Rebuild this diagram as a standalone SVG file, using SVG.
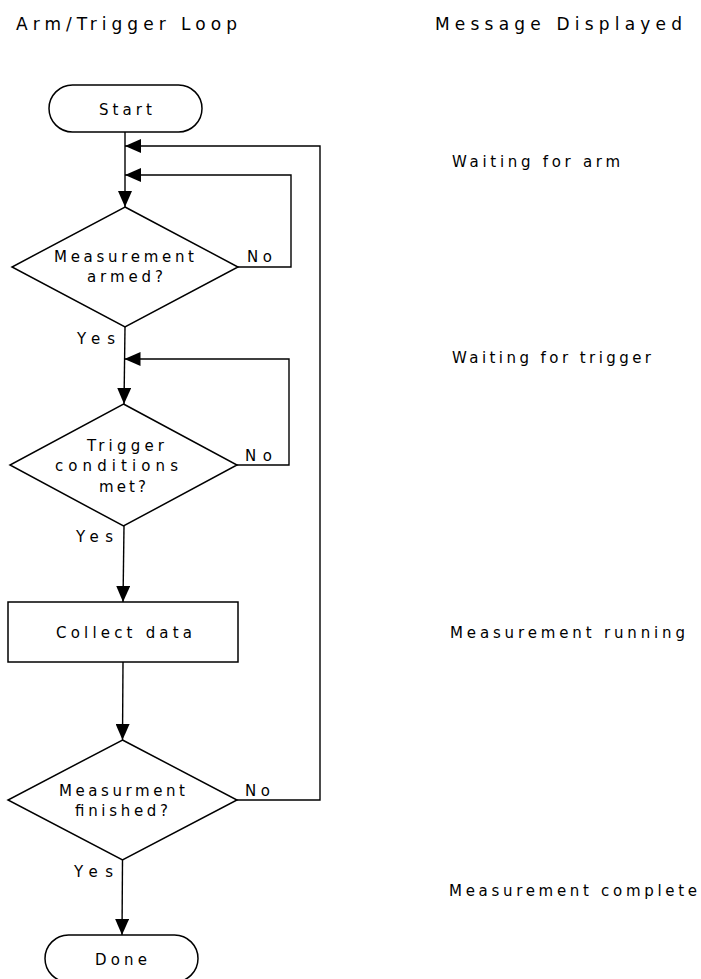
<svg xmlns="http://www.w3.org/2000/svg" width="701" height="979" viewBox="0 0 701 979">
<style>
.t{font-family:"DejaVu Sans","Liberation Sans",sans-serif;font-size:15px;fill:#000;}
.h{font-size:17px;}
.s{fill:none;stroke:#000;stroke-width:1.5;}
.c{fill:none;stroke:#000;stroke-width:1.4;marker-end:url(#ah);}
</style>
<defs>
<marker id="ah" viewBox="0 0 16 14" refX="16" refY="7" markerWidth="16" markerHeight="14" markerUnits="userSpaceOnUse" orient="auto">
<path d="M0,0 L16,7 L0,14 z" fill="#000"/>
</marker>
</defs>
<rect width="701" height="979" fill="#fff"/>
<g id="headers">
<text class="t h" x="16" y="30" textLength="221" lengthAdjust="spacing">Arm/Trigger Loop</text>
<text class="t h" x="435" y="30" textLength="247" lengthAdjust="spacing">Message Displayed</text>
</g>
<g id="messages">
<text class="t" x="452" y="167" textLength="168" lengthAdjust="spacing">Waiting for arm</text>
<text class="t" x="452" y="363" textLength="199" lengthAdjust="spacing">Waiting for trigger</text>
<text class="t" x="450" y="638" textLength="235" lengthAdjust="spacing">Measurement running</text>
<text class="t" x="449" y="896" textLength="248" lengthAdjust="spacing">Measurement complete</text>
</g>
<g id="connectors">
<path class="c" d="M125,132 L125,207"/>
<path class="c" d="M238,267 L291,267 L291,175 L125,175"/>
<path class="c" d="M125,327 L124,404"/>
<path class="c" d="M237,465 L289,465 L289,359 L124.5,359"/>
<path class="c" d="M124,526 L123,602"/>
<path class="c" d="M123,662 L122.5,740"/>
<path class="c" d="M237,800 L320,800 L320,146 L125,146"/>
<path class="c" d="M122.5,860 L122,935"/>
</g>
<g id="start">
<rect class="s" x="49" y="85" width="153" height="47" rx="23.5"/>
<text class="t" x="99" y="115" textLength="53" lengthAdjust="spacing">Start</text>
</g>
<g id="armed">
<polygon class="s" points="125,207 238,267 125,327 12,267"/>
<text class="t" x="54" y="262" textLength="140" lengthAdjust="spacing">Measurement</text>
<text class="t" x="87" y="282" textLength="76" lengthAdjust="spacing">armed?</text>
<text class="t" x="247" y="262" textLength="25" lengthAdjust="spacing">No</text>
<text class="t" x="77" y="344" textLength="38" lengthAdjust="spacing">Yes</text>
</g>
<g id="trigger">
<polygon class="s" points="123.5,404 237,465 123.5,526 10,465"/>
<text class="t" x="87" y="451" textLength="77" lengthAdjust="spacing">Trigger</text>
<text class="t" x="55" y="471" textLength="123" lengthAdjust="spacing">conditions</text>
<text class="t" x="99" y="492" textLength="47" lengthAdjust="spacing">met?</text>
<text class="t" x="245" y="461" textLength="27" lengthAdjust="spacing">No</text>
<text class="t" x="76" y="542" textLength="37" lengthAdjust="spacing">Yes</text>
</g>
<g id="collect">
<rect class="s" x="8" y="602" width="230" height="60"/>
<text class="t" x="56" y="638" textLength="136" lengthAdjust="spacing">Collect data</text>
</g>
<g id="finished">
<polygon class="s" points="122.5,740 237,800 122.5,860 8,800"/>
<text class="t" x="59" y="796" textLength="126" lengthAdjust="spacing">Measurment</text>
<text class="t" x="75" y="816" textLength="93" lengthAdjust="spacing">finished?</text>
<text class="t" x="245" y="796" textLength="25" lengthAdjust="spacing">No</text>
<text class="t" x="74" y="877" textLength="39" lengthAdjust="spacing">Yes</text>
</g>
<g id="done">
<rect class="s" x="45" y="935" width="153" height="47" rx="23.5"/>
<text class="t" x="95" y="965" textLength="52" lengthAdjust="spacing">Done</text>
</g>
</svg>
